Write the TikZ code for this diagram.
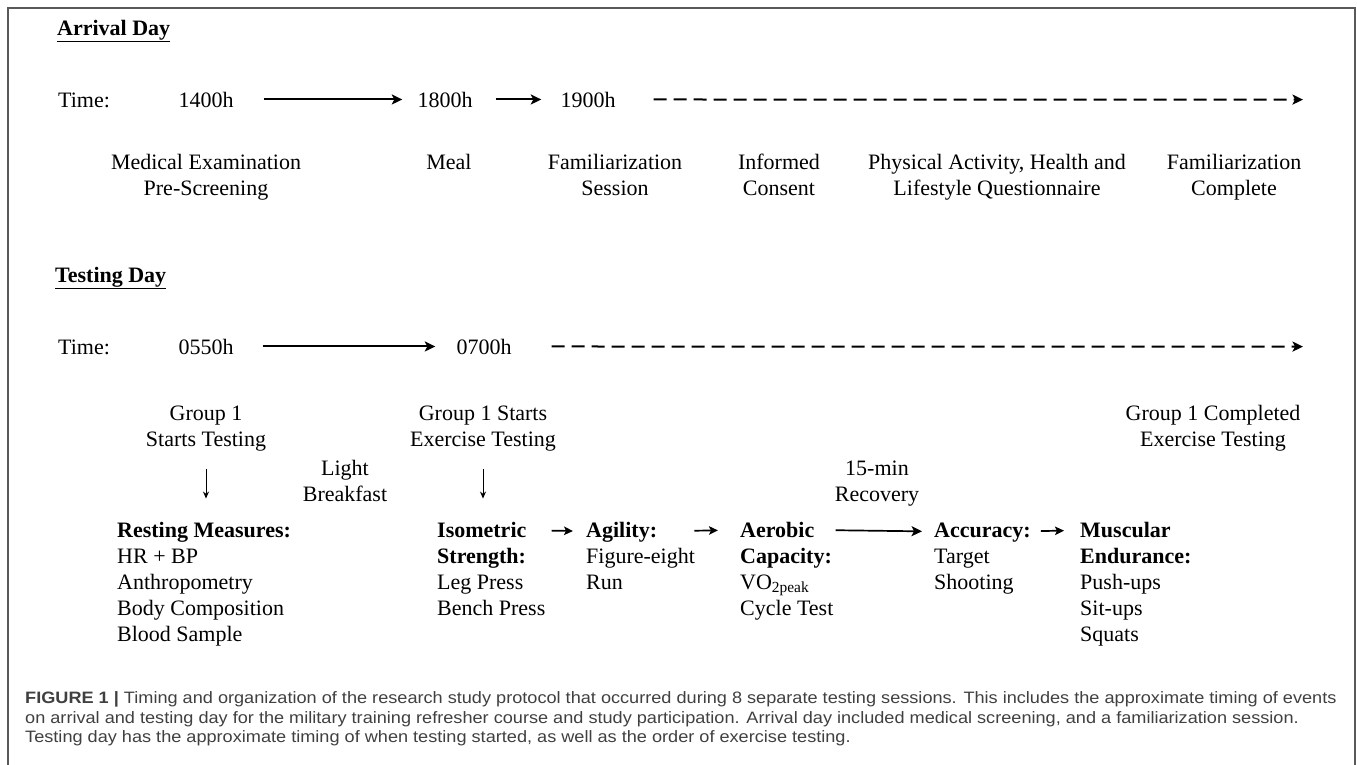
\documentclass[tikz,border=0pt]{standalone}
\usepackage{fontspec}
\setmainfont{Liberation Serif}
\newfontfamily\capfont[FakeStretch=1.099]{Liberation Sans}
\usetikzlibrary{arrows.meta}
\definecolor{capgray}{gray}{0.25}
\definecolor{framegray}{gray}{0.35}
\begin{document}
\begin{tikzpicture}[x=1pt,y=-1pt,
  txt/.style={font=\fontsize{22}{26}\selectfont, inner sep=0pt, align=center, anchor=base},
  lst/.style={font=\fontsize{22}{26.2}\selectfont, inner sep=0pt, align=left, anchor=base west},
  hd/.style={font=\fontsize{22}{26}\selectfont\bfseries, inner sep=0pt, anchor=base west},
  arr/.style={line width=2pt, -{Stealth[length=10.5pt,width=10pt,inset=2.5pt]}},
  darr/.style={line width=2pt, dash pattern=on 13pt off 7pt, -{Stealth[length=10.5pt,width=10pt,inset=2.5pt]}},
  sarr/.style={line width=1.7pt, -{Stealth[length=9pt,width=8.5pt,inset=2pt]}},
  downarr/.style={line width=1pt, -{Stealth[length=7pt,width=6pt]}},
  captext/.style={font=\capfont\fontsize{16.5}{20}\selectfont, text=capgray, inner sep=0pt, anchor=base west}
]
\useasboundingbox (0,0) rectangle (1357,764);
\draw[framegray, line width=1.5pt] (8,800) -- (8,8) -- (1355,8) -- (1355,800);

% ---------- Arrival day ----------
\node[hd] (arrhd) at (57,35) {\underline{Arrival Day}};
\node[txt, anchor=base west] (timeA) at (58,107) {Time:};
\node[txt] (t1400) at (206,107) {1400h};
\node[txt] (t1800) at (445,107) {1800h};
\node[txt] (t1900) at (588,107) {1900h};
\coordinate (endA) at (1303,99.6);
\draw[arr, shorten <=30pt, shorten >=15pt] (t1400) -- (t1800);
\draw[arr, shorten <=23pt, shorten >=19pt] (t1800) -- (t1900);
\draw[darr, shorten <=38pt] (t1900) -- (endA);

\node[txt] (med) at (206,195.5) {Medical Examination\\Pre-Screening};
\node[txt] (meal) at (449,169.5) {Meal};
\node[txt] (fam) at (615,195.5) {Familiarization\\Session};
\node[txt] (inf) at (779,195.5) {Informed\\Consent};
\node[txt] (pa) at (997,195.5) {Physical Activity, Health and\\Lifestyle Questionnaire};
\node[txt] (fc) at (1234,195.5) {Familiarization\\Complete};

% ---------- Testing day ----------
\node[hd] (testhd) at (55,282) {\underline{Testing Day}};
\node[txt, anchor=base west] (timeT) at (58,354) {Time:};
\node[txt] (t0550) at (206,354) {0550h};
\node[txt] (t0700) at (484,354) {0700h};
\coordinate (endT) at (1303,346.6);
\draw[arr, shorten <=29pt, shorten >=21pt] (t0550) -- (t0700);
\draw[darr, shorten <=40pt] (t0700) -- (endT);

\node[txt] (g1) at (206,446) {Group 1\\Starts Testing};
\node[txt] (g1ex) at (483,446) {Group 1 Starts\\Exercise Testing};
\node[txt] (g1c) at (1213,446) {Group 1 Completed\\Exercise Testing};
\node[txt] (brk) at (345,501) {Light\\Breakfast};
\node[txt] (rec) at (877,501) {15-min\\Recovery};

% test columns
\node[hd] (restH) at (117,537) {Resting Measures:};
\node[lst] (rest) at (117,641.6) {HR + BP\\Anthropometry\\Body Composition\\Blood Sample};
\node[hd] (isoH) at (437,537) {Isometric};
\node[lst] (iso) at (437,615.4) {\textbf{Strength:}\\Leg Press\\Bench Press};
\node[hd] (agiH) at (586,537) {Agility:};
\node[lst] (agi) at (586,589.2) {Figure-eight\\Run};
\node[hd] (aerH) at (740,537) {Aerobic};
\node[lst] (aer) at (740,615.4) {\textbf{Capacity:}\\VO\textsubscript{2peak}\\Cycle Test};
\node[hd] (accH) at (934,537) {Accuracy:};
\node[lst] (acc) at (934,589.2) {Target\\Shooting};
\node[hd] (musH) at (1080,537) {Muscular};
\node[lst] (mus) at (1080,641.6) {\textbf{Endurance:}\\Push-ups\\Sit-ups\\Squats};

\draw[downarr, shorten <=18pt, shorten >=23pt] (g1.south) -- (g1.south |- restH.north);
\draw[downarr, shorten <=18pt, shorten >=23pt] (g1ex.south) -- (g1ex.south |- isoH.north);

\draw[sarr, shorten <=25pt, shorten >=13pt] (isoH) -- (agiH);
\draw[sarr, shorten <=37pt, shorten >=22pt] (agiH) -- (aerH);
\draw[arr, line width=1.7pt, shorten <=21pt, shorten >=12pt] (aerH) -- (accH);
\draw[sarr, shorten <=10pt, shorten >=16pt] (accH) -- (musH);

% ---------- Caption ----------
\node[captext] (c1) at (25,703) {\textbf{FIGURE 1 |} Timing and organization of the research study protocol that occurred during 8 separate testing sessions. This includes the approximate timing of events};
\node[captext] (c2) at (25,723) {on arrival and testing day for the military training refresher course and study participation. Arrival day included medical screening, and a familiarization session.};
\node[captext] (c3) at (25,742) {Testing day has the approximate timing of when testing started, as well as the order of exercise testing.};
\end{tikzpicture}
\end{document}
